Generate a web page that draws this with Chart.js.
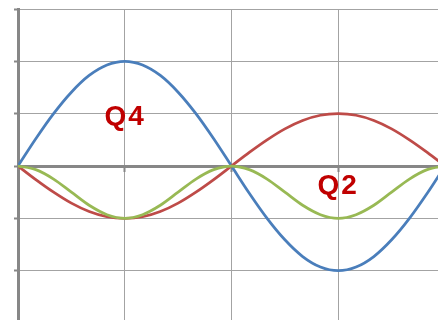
<!DOCTYPE html>
<html><head><meta charset="utf-8">
<script src="https://cdn.jsdelivr.net/npm/chart.js@4"></script>
<style>
html,body{margin:0;padding:0;background:#fff;overflow:hidden;width:438px;height:320px}
#wrap{position:relative;width:438px;height:320px;overflow:hidden}
canvas{position:absolute;left:0;top:0}
</style></head>
<body><div id="wrap"><canvas id="c" width="452" height="330"></canvas></div>
<script>
const angles      = [0,15,30,45,60,75,90,105,120,135,150,165,180,195,210,225,240,255,270,285,300,315,330,345,360];
const blueValues  = [0,0.52,1,1.41,1.73,1.93,2,1.93,1.73,1.41,1,0.52,0,-0.52,-1,-1.41,-1.73,-1.93,-2,-1.93,-1.73,-1.41,-1,-0.52,0];
const redValues   = [0,-0.26,-0.5,-0.71,-0.87,-0.97,-1,-0.97,-0.87,-0.71,-0.5,-0.26,0,0.26,0.5,0.71,0.87,0.97,1,0.97,0.87,0.71,0.5,0.26,0];
const greenValues = [0,-0.07,-0.25,-0.5,-0.75,-0.93,-1,-0.93,-0.75,-0.5,-0.25,-0.07,0,-0.07,-0.25,-0.5,-0.75,-0.93,-1,-0.93,-0.75,-0.5,-0.25,-0.07,0];
const noteTexts = ['Q4','Q2'];
const noteX = [73, 252.5];
const noteY = [0.78, -0.53];

const toPts = vals => vals.map((v,i)=>({x:angles[i], y:v}));

const notePlugin = {
  id:'notes',
  afterDatasetsDraw(chart){
    const {ctx, scales:{x,y}} = chart;
    ctx.save();
    ctx.font = 'bold 28px "Liberation Sans", Arial, sans-serif';
    ctx.fillStyle = '#C00000';
    ctx.textBaseline = 'alphabetic';
    ctx.textAlign = 'left';
    try { ctx.letterSpacing = '2px'; } catch(e) {}
    noteTexts.forEach((t,i)=>ctx.fillText(t, x.getPixelForValue(noteX[i]), y.getPixelForValue(noteY[i])));
    ctx.restore();
  }
};

const common = {pointRadius:0, borderWidth:2.75, fill:false, cubicInterpolationMode:'monotone'};

new Chart(document.getElementById('c'), {
  type:'line',
  data:{datasets:[
    Object.assign({label:'blue', data:toPts(blueValues), borderColor:'#4A7EBB', order:3}, common),
    Object.assign({label:'red', data:toPts(redValues), borderColor:'#BE4B48', order:2}, common),
    Object.assign({label:'green', data:toPts(greenValues), borderColor:'#98B954', order:1}, common)
  ]},
  options:{
    responsive:false, animation:false, devicePixelRatio:1,
    layout:{padding:{left:14, top:9, right:7, bottom:7}},
    plugins:{legend:{display:false}, tooltip:{enabled:false}},
    scales:{
      x:{type:'linear', min:0, max:360, position:{y:0},
         ticks:{display:false, stepSize:90},
         grid:{color:'#a3a3a3', lineWidth:1, tickLength:4, tickColor:'#878787', tickWidth:2},
         border:{display:true, color:'#878787', width:3}},
      y:{type:'linear', min:-3, max:3,
         ticks:{display:false, stepSize:1},
         grid:{color:'#a3a3a3', lineWidth:1, tickLength:4, tickColor:'#878787', tickWidth:2},
         border:{display:true, color:'#878787', width:3}}
    }
  },
  plugins:[notePlugin]
});
</script>
</body></html>
